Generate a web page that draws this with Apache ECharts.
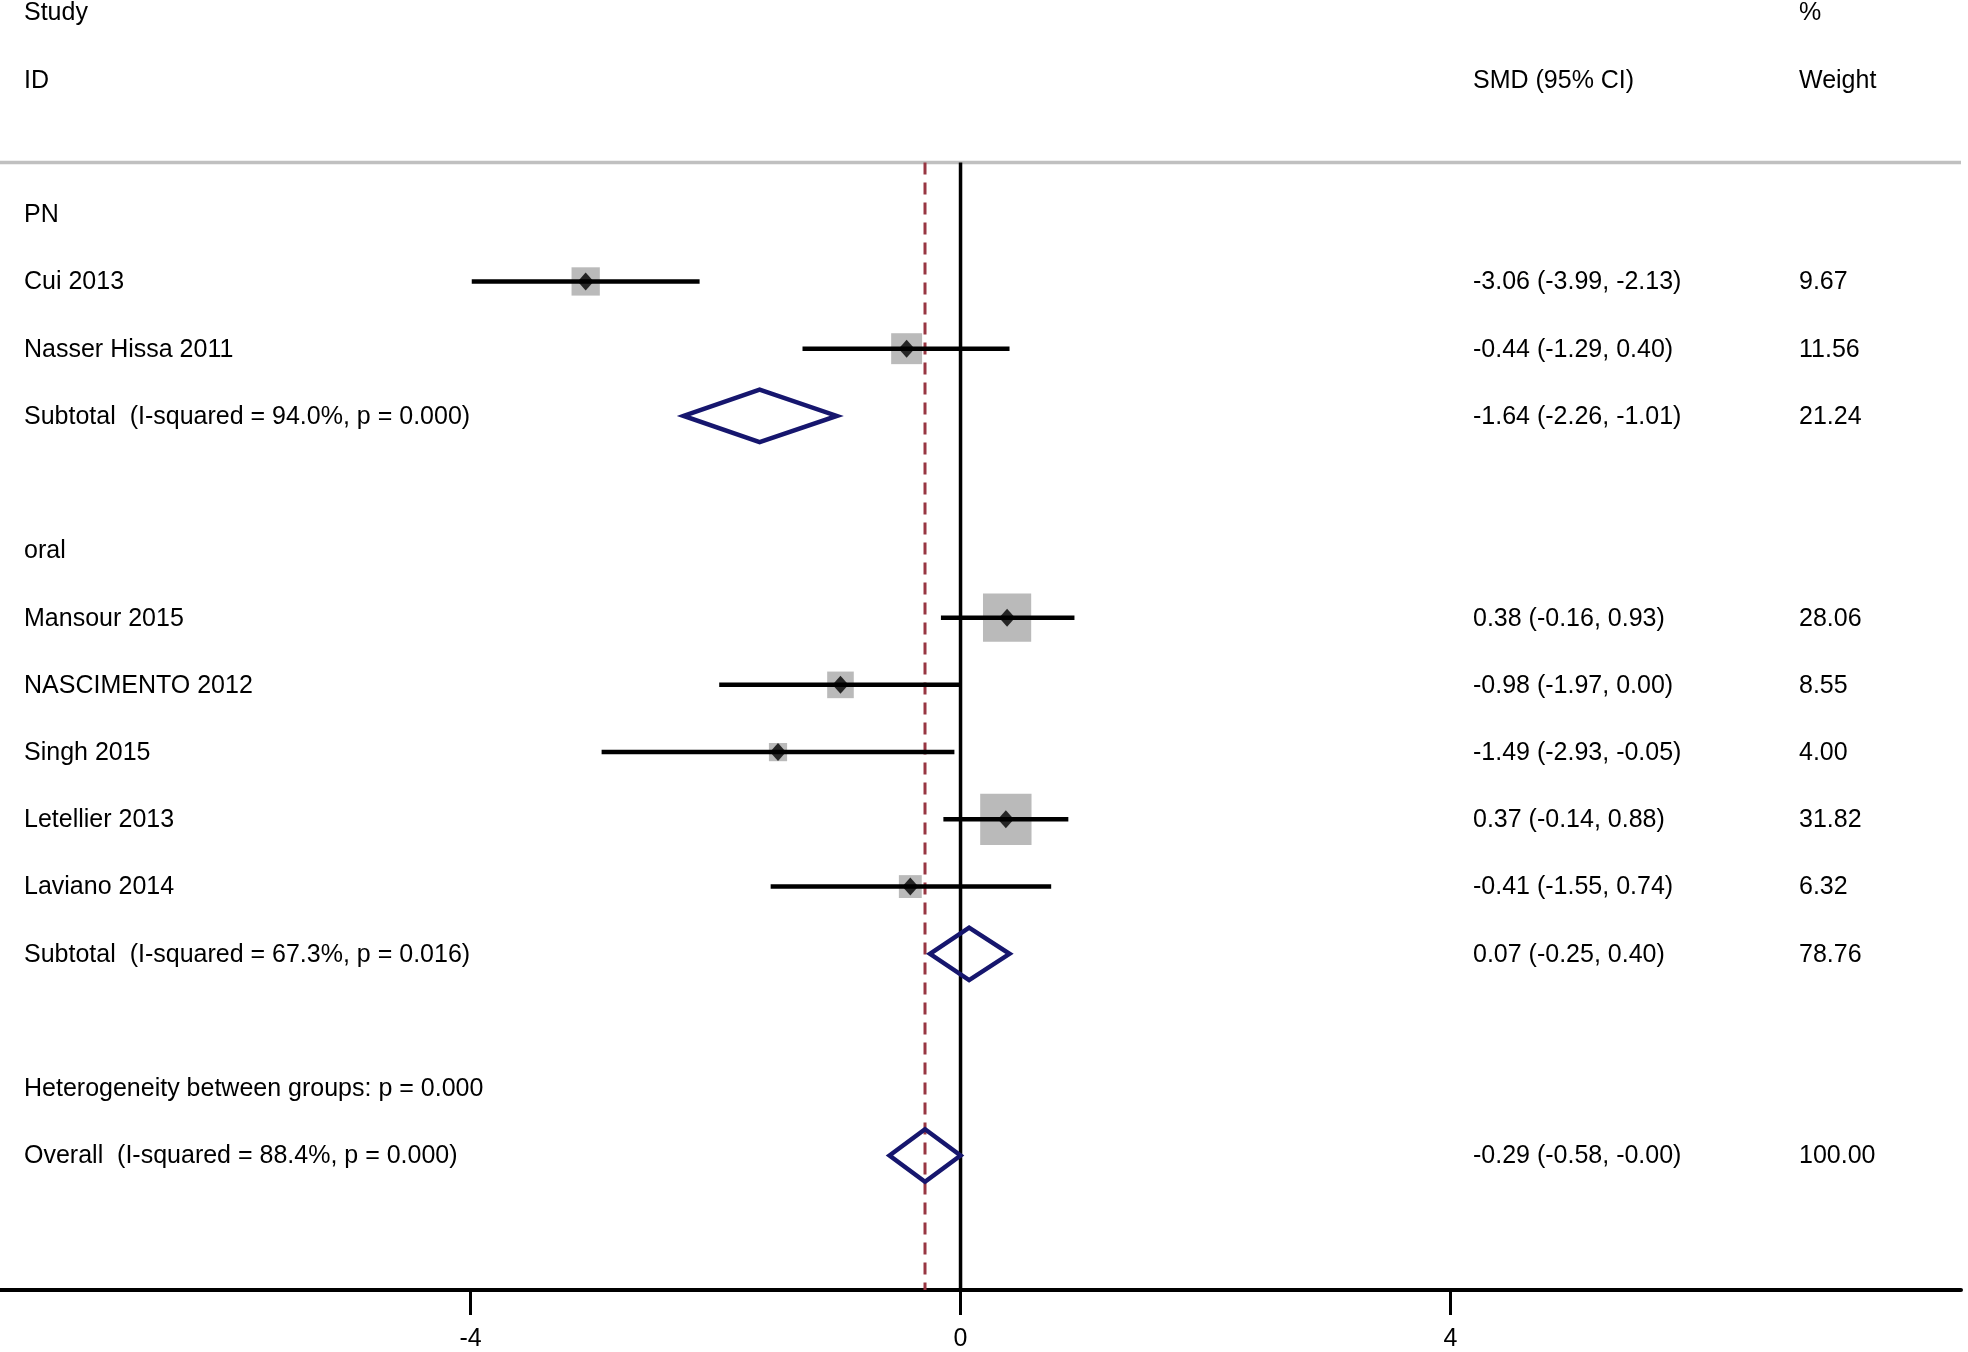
<!DOCTYPE html>
<html>
<head>
<meta charset="utf-8">
<script src="https://cdn.jsdelivr.net/npm/echarts@6/dist/echarts.min.js"></script>
<style>html,body{margin:0;padding:0;background:#fff}#chart{width:1968px;height:1352px}</style>
</head>
<body>
<div id="chart"></div>
<script>
// ---- Data ----
const studyNames = ['Cui 2013', 'Nasser Hissa 2011', 'Mansour 2015', 'NASCIMENTO 2012', 'Singh 2015', 'Letellier 2013', 'Laviano 2014'];
const studyRows = [4, 5, 9, 10, 11, 12, 13];
const studySMD = [-3.06, -0.44, 0.38, -0.98, -1.49, 0.37, -0.41];
const studyLower = [-3.99, -1.29, -0.16, -1.97, -2.93, -0.14, -1.55];
const studyUpper = [-2.13, 0.40, 0.93, 0.00, -0.05, 0.88, 0.74];
const studyWeights = [9.67, 11.56, 28.06, 8.55, 4.00, 31.82, 6.32];
const studyCI = ['-3.06 (-3.99, -2.13)', '-0.44 (-1.29, 0.40)', '0.38 (-0.16, 0.93)', '-0.98 (-1.97, 0.00)', '-1.49 (-2.93, -0.05)', '0.37 (-0.14, 0.88)', '-0.41 (-1.55, 0.74)'];

const pooledNames = ['Subtotal  (I-squared = 94.0%, p = 0.000)', 'Subtotal  (I-squared = 67.3%, p = 0.016)', 'Overall  (I-squared = 88.4%, p = 0.000)'];
const pooledRows = [6, 14, 17];
const pooledSMD = [-1.64, 0.07, -0.29];
const pooledLower = [-2.26, -0.25, -0.58];
const pooledUpper = [-1.01, 0.40, -0.00];
const pooledWeights = [21.24, 78.76, 100.00];
const pooledCI = ['-1.64 (-2.26, -1.01)', '0.07 (-0.25, 0.40)', '-0.29 (-0.58, -0.00)'];

const groupNames = ['PN', 'oral'];
const groupRows = [3, 8];
const heterogeneityText = 'Heterogeneity between groups: p = 0.000';
const heterogeneityRow = 16;

const headerLeft = ['Study', 'ID'];
const headerCI = 'SMD (95% CI)';
const headerWeight = ['%', 'Weight'];

const xTickValues = [-4, 0, 4];
const overallSMD = pooledSMD[2];

// ---- Layout helpers ----
const ROWS = 19;
const SEP_ROW = 2.23;
const COL_LABEL = 24, COL_CI = 1473, COL_W = 1799;
const FONT = '"Liberation Sans", Arial, Helvetica, sans-serif';
const FS = 25;

const textItems = [];
textItems.push({ row: 0, x: COL_LABEL, t: headerLeft[0] });
textItems.push({ row: 1, x: COL_LABEL, t: headerLeft[1] });
textItems.push({ row: 1, x: COL_CI, t: headerCI });
textItems.push({ row: 0, x: COL_W, t: headerWeight[0] });
textItems.push({ row: 1, x: COL_W, t: headerWeight[1] });
groupNames.forEach((g, i) => textItems.push({ row: groupRows[i], x: COL_LABEL, t: g }));
studyNames.forEach((n, i) => {
  textItems.push({ row: studyRows[i], x: COL_LABEL, t: n });
  textItems.push({ row: studyRows[i], x: COL_CI, t: studyCI[i] });
  textItems.push({ row: studyRows[i], x: COL_W, t: studyWeights[i].toFixed(2) });
});
pooledNames.forEach((n, i) => {
  textItems.push({ row: pooledRows[i], x: COL_LABEL, t: n });
  textItems.push({ row: pooledRows[i], x: COL_CI, t: pooledCI[i] });
  textItems.push({ row: pooledRows[i], x: COL_W, t: pooledWeights[i].toFixed(2) });
});
textItems.push({ row: heterogeneityRow, x: COL_LABEL, t: heterogeneityText });

const X_MIN = -7.841, X_MAX = 8.167;

const chart = echarts.init(document.getElementById('chart'), null, { renderer: 'canvas' });
const option = {
  animation: false,
  backgroundColor: '#ffffff',
  grid: { left: 0, right: 7, top: 12.5, bottom: 60, containLabel: false },
  xAxis: {
    type: 'value', min: X_MIN, max: X_MAX, position: 'bottom',
    axisLine: { show: true, onZero: false, lineStyle: { color: '#000', width: 4 } },
    axisTick: { show: true, customValues: xTickValues, length: 25, lineStyle: { color: '#000', width: 3 } },
    axisLabel: { show: true, customValues: xTickValues, margin: 37, fontSize: FS, fontFamily: FONT, color: '#000' },
    splitLine: { show: false }
  },
  yAxis: {
    type: 'value', min: 0, max: ROWS, inverse: true, show: false,
    axisLine: { show: false }, splitLine: { show: false }
  },
  series: [
    // reference lines and separator
    {
      type: 'custom', z: 1, silent: true,
      data: [[0, 0]],
      renderItem: function (params, api) {
        const top = api.coord([0, SEP_ROW])[1];
        const bot = api.coord([0, ROWS])[1];
        const x0 = api.coord([0, 0])[0];
        const xo = api.coord([overallSMD, 0])[0];
        const xl = api.coord([X_MIN, 0])[0];
        const xr = api.coord([X_MAX, 0])[0];
        return {
          type: 'group', children: [
            { type: 'line', shape: { x1: xl, y1: top, x2: xr, y2: top }, style: { stroke: '#c0c0c0', lineWidth: 3.5 } },
            { type: 'line', shape: { x1: xo, y1: top, x2: xo, y2: bot }, style: { stroke: '#983642', lineWidth: 3, lineDash: [12, 8] } },
            { type: 'line', shape: { x1: x0, y1: top, x2: x0, y2: bot }, style: { stroke: '#000', lineWidth: 3.5 } }
          ]
        };
      }
    },
    // weight boxes
    {
      type: 'scatter', z: 2, silent: true,
      symbol: 'rect',
      symbolSize: function (v) { return Math.sqrt(v[2]) * 9.1; },
      itemStyle: { color: '#bababa', opacity: 1 },
      data: studySMD.map((s, i) => [s, studyRows[i], studyWeights[i]])
    },
    // CI lines
    {
      type: 'custom', z: 3, silent: true,
      data: studySMD.map((s, i) => [studyLower[i], studyRows[i], studyUpper[i]]),
      renderItem: function (params, api) {
        const a = api.coord([api.value(0), api.value(1)]);
        const b = api.coord([api.value(2), api.value(1)]);
        return { type: 'line', shape: { x1: a[0], y1: a[1], x2: b[0], y2: b[1] }, style: { stroke: '#000', lineWidth: 4.5 } };
      }
    },
    // point estimates
    {
      type: 'scatter', z: 4, silent: true,
      symbol: 'diamond', symbolSize: [16, 18],
      itemStyle: { color: '#000' },
      data: studySMD.map((s, i) => [s, studyRows[i]])
    },
    // pooled diamonds
    {
      type: 'custom', z: 4, silent: true,
      data: pooledSMD.map((s, i) => [s, pooledRows[i], pooledLower[i], pooledUpper[i]]),
      renderItem: function (params, api) {
        const est = api.value(0), row = api.value(1), lo = api.value(2), hi = api.value(3);
        const h = 0.39;
        const pts = [api.coord([lo, row]), api.coord([est, row - h]), api.coord([hi, row]), api.coord([est, row + h])];
        return { type: 'polygon', shape: { points: pts }, style: { fill: 'none', stroke: '#16166e', lineWidth: 4.5, lineJoin: 'miter' } };
      }
    },
    // text columns
    {
      type: 'custom', z: 5, silent: true,
      data: textItems.map(t => [0, t.row]),
      renderItem: function (params, api) {
        const it = textItems[params.dataIndex];
        const y = api.coord([0, it.row])[1] + 1;
        return {
          type: 'text',
          style: { text: it.t, x: it.x, y: y, fill: '#000', fontSize: FS, fontFamily: FONT, align: 'left', verticalAlign: 'middle' }
        };
      }
    }
  ]
};
chart.setOption(option);
</script>
</body>
</html>
